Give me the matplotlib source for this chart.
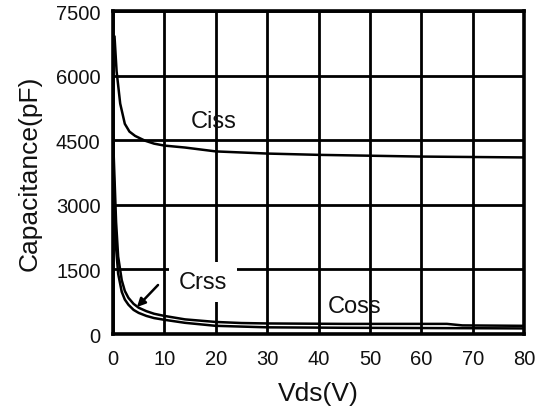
import matplotlib
matplotlib.use('Agg')
from matplotlib import pyplot as plt

plt.rcParams['font.family'] = ['Liberation Sans', 'DejaVu Sans']

# Capacitance vs drain-source voltage
ciss_v = [0.3, 0.7, 1.4, 2.3, 3.2, 4.3, 6.2, 8, 10, 14, 20, 30, 40, 50, 60, 70, 80]
ciss_c = [6900, 6100, 5350, 4880, 4700, 4600, 4490, 4420, 4375, 4330, 4240, 4190,
          4160, 4140, 4120, 4110, 4100]

coss_v = [0, 0.3, 0.6, 1.0, 1.7, 2.3, 3, 4, 5, 6.5, 8, 10, 14, 20, 25, 30, 45, 65,
          68, 80]
coss_c = [4600, 3600, 2600, 1800, 1250, 1000, 840, 700, 610, 530, 470, 420, 340,
          280, 255, 245, 235, 235, 200, 190]

crss_v = [0, 0.3, 0.6, 1.0, 1.7, 2.3, 3, 4, 5, 6.5, 8, 10, 14, 20, 30, 45, 80]
crss_c = [4300, 3000, 2000, 1400, 980, 800, 680, 560, 490, 420, 370, 330, 260, 190,
          155, 145, 130]

x_ticks = [0, 10, 20, 30, 40, 50, 60, 70, 80]
y_ticks = [0, 1500, 3000, 4500, 6000, 7500]

fig = plt.figure(figsize=(5.42, 4.14), dpi=100)
ax = fig.add_axes([0.2085, 0.1908, 0.7583, 0.7802])

ax.plot(ciss_v, ciss_c, color='black', linewidth=1.8, zorder=3)
ax.plot(coss_v, coss_c, color='black', linewidth=1.8, zorder=3)
ax.plot(crss_v, crss_c, color='black', linewidth=1.8, zorder=3)

ax.set_xlim(0, 80)
ax.set_ylim(0, 7500)
ax.set_xticks(x_ticks)
ax.set_yticks(y_ticks)
ax.grid(True, color='black', linewidth=2.0)
ax.set_axisbelow(True)
for s in ax.spines.values():
    s.set_linewidth(2.6)
ax.tick_params(length=0, labelsize=14.5, colors='#111111')
ax.tick_params(axis='x', pad=11)
ax.tick_params(axis='y', pad=9)

ax.set_xlabel('Vds(V)', fontsize=19, color='#111111', labelpad=9)
ax.set_ylabel('Capacitance(pF)', fontsize=19, color='#111111', labelpad=10)

ax.text(19.5, 4946, 'Ciss', fontsize=17, ha='center', va='center',
        color='#111111', zorder=4)
ax.text(17.5, 1207, 'Crss', fontsize=17, ha='center', va='center',
        color='#111111', zorder=4,
        bbox=dict(boxstyle='square,pad=0.4', facecolor='white', edgecolor='none'))
ax.text(47.1, 650, 'Coss', fontsize=17, ha='center', va='center',
        color='#111111', zorder=4)

ax.annotate('', xy=(4.67, 627), xytext=(8.76, 1138),
            arrowprops=dict(arrowstyle='-|>', color='black', lw=1.8,
                            mutation_scale=12, shrinkA=0, shrinkB=0), zorder=5)

fig.savefig('out.png', dpi=100)
